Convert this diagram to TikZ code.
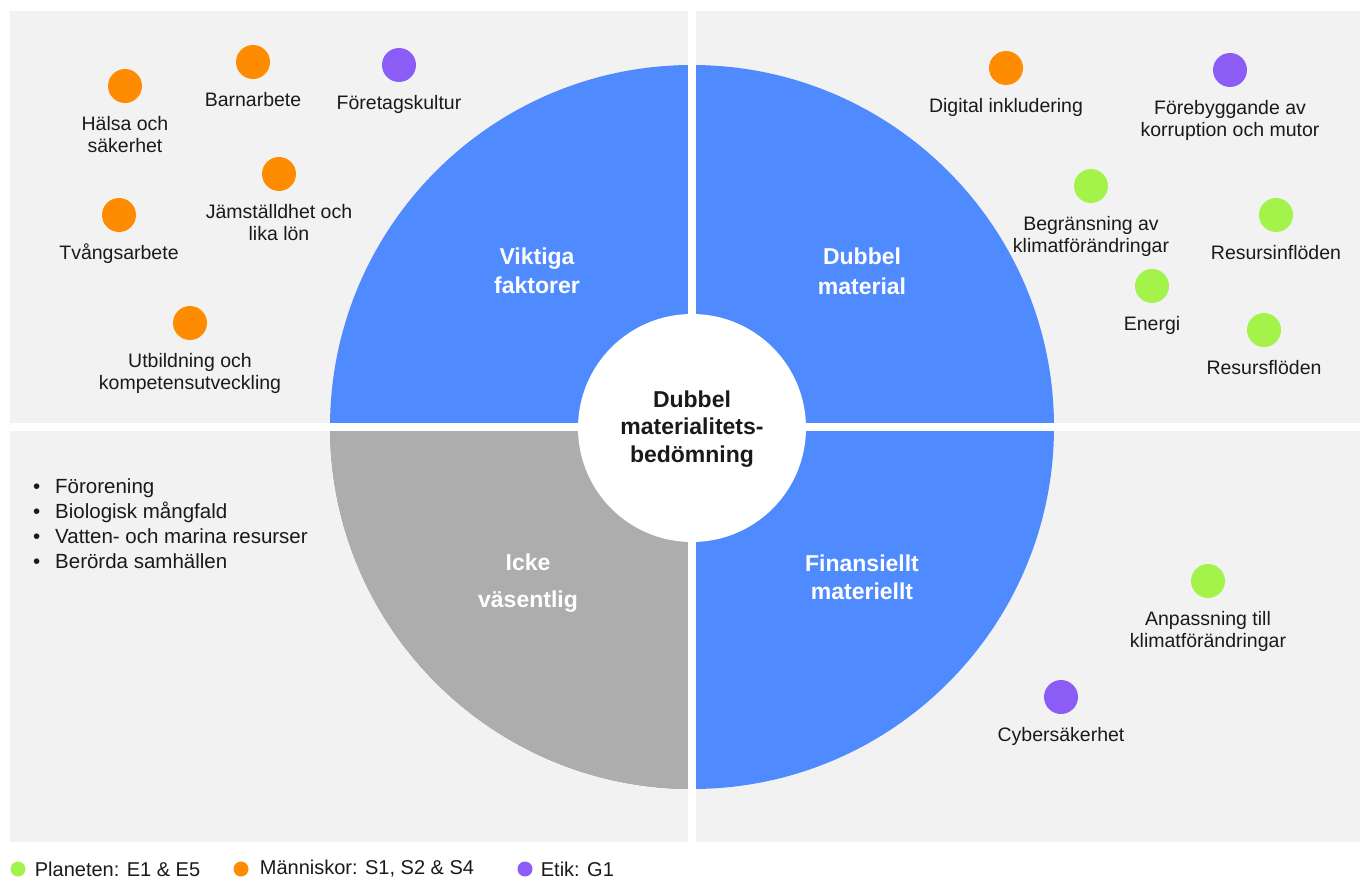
\documentclass[tikz,border=0pt]{standalone}
\usepackage{fontspec}
\setmainfont{Liberation Sans}
\usetikzlibrary{positioning}

\definecolor{panelgray}{HTML}{F2F2F2}
\definecolor{pieblue}{HTML}{4F8BFF}
\definecolor{piegray}{HTML}{ADADAD}
\definecolor{peopleorange}{HTML}{FF8C00}
\definecolor{ethicspurple}{HTML}{8B5CF6}
\definecolor{planetgreen}{HTML}{A4F34B}
\definecolor{inkblack}{HTML}{1A1A1A}

%% fixed top of first text line, so every label sits the same under its dot
\newcommand\ltop{\rule{0pt}{18pt}}

\begin{document}
\begin{tikzpicture}[x=1pt, y=-1pt,
  every node/.style={text=inkblack},
  fdot/.style={circle, fill=#1, minimum size=34pt, inner sep=0pt},
  flabel/.style={below=9pt of #1, inner sep=0pt, align=center,
    font=\fontsize{19.5}{22}\selectfont},
  quad/.style={text=white, align=center, inner sep=0pt},
  ldot/.style={circle, fill=#1, minimum size=15pt, inner sep=0pt},
  ltext/.style={right=#1, inner sep=0pt, font=\fontsize{20}{24}\selectfont}]

\def\cx{692}
\def\cy{427}
\def\rpie{362}

\useasboundingbox (0,0) rectangle (1360,880);
\fill[white] (0,0) rectangle (1360,880);

%% ── Panels ───────────────────────────────────────────────────────────────────
\fill[panelgray] (10,11)  rectangle (688,423);
\fill[panelgray] (696,11) rectangle (1360,423);
\fill[panelgray] (10,431) rectangle (688,842);
\fill[panelgray] (696,431) rectangle (1360,842);

%% ── Pie ──────────────────────────────────────────────────────────────────────
\fill[pieblue] (\cx,\cy) circle[radius=\rpie];
\fill[piegray] (\cx,\cy) -- ++(180:\rpie)
  arc[start angle=180, end angle=90, radius=\rpie] -- cycle;

%% white cross between the quarters
\fill[white] (688,0) rectangle (696,842);
\fill[white] (0,423) rectangle (1360,431);

\fill[white] (\cx,428) circle[radius=114];

\node[font=\fontsize{23}{27.5}\selectfont\bfseries, align=center, inner sep=0pt]
  (core) at (\cx,429) {Dubbel\\materialitets-\\bedömning};

%% quarter titles
\node[quad, font=\fontsize{23}{29}\selectfont\bfseries] (qTL) at (537,271)
  {Viktiga\\faktorer};
\node[quad, font=\fontsize{23}{30}\selectfont\bfseries] (qTR) at (862,271)
  {Dubbel\\material};
\node[quad, font=\fontsize{23}{37}\selectfont\bfseries] (qBL) at (528,583)
  {Icke\\väsentlig};
\node[quad, font=\fontsize{23}{28}\selectfont\bfseries] (qBR) at (862,577)
  {Finansiellt\\materiellt};

%% ── Top left: people / ethics ────────────────────────────────────────────────
\node[fdot=peopleorange] (dHalsa)  at (125,86)  {};
\node[flabel=dHalsa]     (lHalsa)  {\ltop Hälsa och\\säkerhet};
\node[fdot=peopleorange] (dBarn)   at (253,62)  {};
\node[flabel=dBarn]      (lBarn)   {\ltop Barnarbete};
\node[fdot=ethicspurple] (dKultur) at (399,65)  {};
\node[flabel=dKultur]    (lKultur) {\ltop Företagskultur};
\node[fdot=peopleorange] (dJam)    at (279,174) {};
\node[flabel=dJam]       (lJam)    {\ltop Jämställdhet och\\lika lön};
\node[fdot=peopleorange] (dTvang)  at (119,215) {};
\node[flabel=dTvang]     (lTvang)  {\ltop Tvångsarbete};
\node[fdot=peopleorange] (dUtb)    at (190,323) {};
\node[flabel=dUtb]       (lUtb)    {\ltop Utbildning och\\kompetensutveckling};

%% ── Top right ────────────────────────────────────────────────────────────────
\node[fdot=peopleorange] (dDigital) at (1006,68)  {};
\node[flabel=dDigital]   (lDigital) {\ltop Digital inkludering};
\node[fdot=ethicspurple] (dKorr)    at (1230,70)  {};
\node[flabel=dKorr]      (lKorr)    {\ltop Förebyggande av\\korruption och mutor};
\node[fdot=planetgreen]  (dBegr)    at (1091,186) {};
\node[flabel=dBegr]      (lBegr)    {\ltop Begränsning av\\klimatförändringar};
\node[fdot=planetgreen]  (dInfl)    at (1276,215) {};
\node[flabel=dInfl]      (lInfl)    {\ltop Resursinflöden};
\node[fdot=planetgreen]  (dEnergi)  at (1152,286) {};
\node[flabel=dEnergi]    (lEnergi)  {\ltop Energi};
\node[fdot=planetgreen]  (dFlod)    at (1264,330) {};
\node[flabel=dFlod]      (lFlod)    {\ltop Resursflöden};

%% ── Bottom right ─────────────────────────────────────────────────────────────
\node[fdot=planetgreen]  (dAnp)   at (1208,581) {};
\node[flabel=dAnp]       (lAnp)   {\ltop Anpassning till\\klimatförändringar};
\node[fdot=ethicspurple] (dCyber) at (1061,697) {};
\node[flabel=dCyber]     (lCyber) {\ltop Cybersäkerhet};

%% ── Bottom left: not material ────────────────────────────────────────────────
\node[anchor=north west, inner sep=0pt, align=left,
      font=\fontsize{20.5}{25}\selectfont] (notMaterial) at (33,475)
  {\ltop\makebox[22pt][l]{\textbullet}Förorening\\
   \makebox[22pt][l]{\textbullet}Biologisk mångfald\\
   \makebox[22pt][l]{\textbullet}Vatten- och marina resurser\\
   \makebox[22pt][l]{\textbullet}Berörda samhällen};

%% ── Legend ───────────────────────────────────────────────────────────────────
\node[ldot=planetgreen]  (kPlanet) at (18,869)  {};
\node[ltext=9pt of kPlanet]  (tPlanet) {Planeten: E1 \& E5};
\node[ldot=peopleorange] (kPeople) at (241,869) {};
\node[ltext=11pt of kPeople] (tPeople) {Människor: S1, S2 \& S4};
\node[ldot=ethicspurple] (kEthics) at (525,869) {};
\node[ltext=8pt of kEthics]  (tEthics) {Etik: G1};

\end{tikzpicture}
\end{document}
